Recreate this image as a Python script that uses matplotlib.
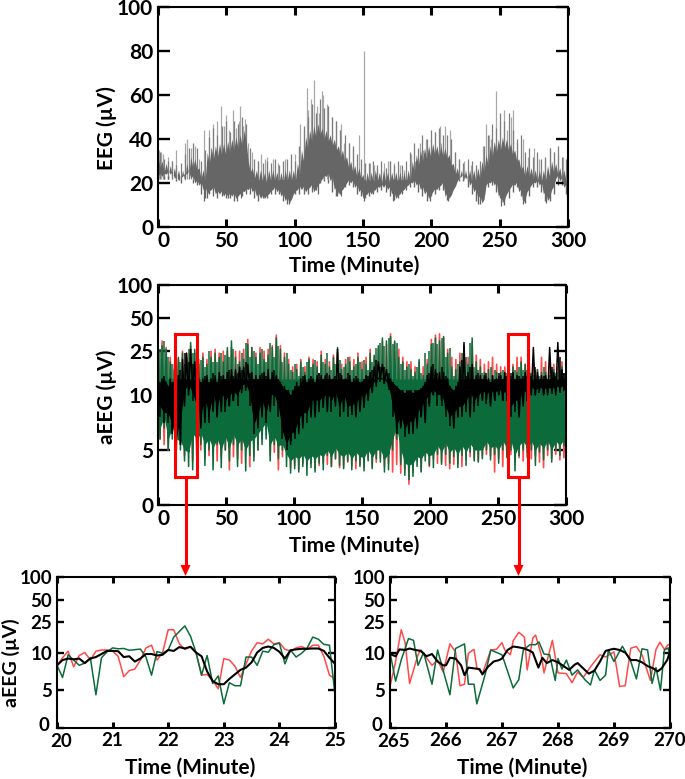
import numpy as np
import matplotlib
matplotlib.use("Agg")
import matplotlib.pyplot as plt
from matplotlib.patches import Rectangle
from matplotlib.transforms import ScaledTranslation

plt.rcParams['font.family'] = ['Lato', 'DejaVu Sans']
plt.rcParams['font.weight'] = 'bold'

W, H = 685, 779

# ---------- top panel: EEG envelope, one value every 3 minutes ----------
eeg_hi = [32,30,29,28,27,26,26,29,32,31,
          27,26,34,36,37,38,38,39,40,41,
          42,44,30,27,26,26,25,26,26,25,
          25,26,26,26,29,35,41,44,46,47,
          45,44,42,40,37,35,32,30,28,27,
          24,25,25,26,25,26,25,25,25,25,
          25,26,30,33,35,36,37,38,37,37,
          36,33,29,27,26,26,26,26,27,30,
          33,37,39,40,41,40,38,35,31,28,
          28,27,26,26,26,28,30,29,27,26,
          25]
eeg_lo = [23,23,24,24,22,21,23,24,22,20,
          19,17,15,17,15,15,14,14,14,13,
          15,16,17,16,14,13,13,15,17,16,
          14,12,11,15,17,17,16,18,16,19,
          22,23,21,17,15,17,20,20,18,16,
          13,15,15,17,18,18,17,15,13,15,
          17,19,20,19,17,15,13,16,17,19,
          14,13,17,21,23,22,19,16,13,11,
          19,20,19,14,11,15,18,19,16,11,
          16,19,20,19,15,12,17,22,21,18,
          15]
# values between the 3-minute points (t = 1.5, 4.5, ...)
eeg_up = [34,31,30,30,28,29,33,36,38,36,
          30,35,41,45,42,46,48,43,48,47,
          50,47,36,31,30,29,30,29,31,28,
          30,31,33,30,37,46,50,56,52,58,
          54,55,50,48,44,42,38,37,33,31,
          29,29,30,28,30,27,30,28,30,28,
          30,34,38,36,42,40,44,43,45,42,
          42,40,34,31,29,31,30,28,30,37,
          42,47,45,52,48,52,44,40,42,34,
          36,32,34,31,32,36,34,37,32,31]
eeg_down = [22,23,23,22,21,20,22,22,20,19,
            15,13,15,14,13,14,13,13,12,14,
            14,15,15,13,12,13,13,15,15,15,
            12,10.5,13,15,15,15,15,16,17,20,
            21,20,16,14,15,18,19,18,15,14,
            13,14,15,16,17,16,14,12.5,13,15,
            17,18,18,16,14,12,14,15,17,17,
            12.5,15,19,21,21,18,15,12,10.5,15,
            18,19,16,13,10,13,16,18,14,11,
            14,18,18,16,12,12,15,19,19,15]
spike_t = [1,2,4,7,10,13,20,21,24,27,30,34,37,39,40,43,46,48,50,52,55,57,59,60,62,64,66,69,
           73,75,78,80,84,88,93,97,100,103,104,107,109,110,112,114,116,118,120,121,124,127,
           130,134,136,140,143,147,151,155,158,160,165,168,170,173,177,180,185,188,192,194,
           196,200,203,206,207,210,214,217,220,224,229,233,238,240,242,244,247,250,253,255,
           258,260,263,267,271,275,279,283,287,290,293,296,299]
spike_v = [35,34,33,32,30,35,38,40,36,37,31,44,44,36,47,48,55,46,51,44,53,45,48,55,46,49,38,34,
           30,33,31,32,31,29,31,30,33,36,47,44,63,53,58,67,55,52,62,60,56,50,
           48,47,38,38,36,42,80,29,28,27,29,30,30,29,28,26,33,30,38,35,
           40,40,43,46,38,46,44,34,31,30,28,27,37,47,42,40,62,48,53,44,
           50,53,38,40,32,36,31,30,36,34,33,32,30]
dip_t = [34,36,51,58,61,96,117,131,134,151,172,199,212,234,251,267,284,299]
dip_v = [12,13,13,12,13,10.5,15,14,14,12,12,12,12,10.5,9.5,10.5,11,13]

# ---------- middle panel: aEEG envelopes, one pair every 3 minutes ----------
green_hi = [30,28,26,20,17,22,24,22,30,26,
            19,22,19,22,24,22,20,27,31,22,
            20,21,29,27,22,24,21,23,27,33,
            26,22,19,16,17,20,16,21,19,18,
            23,19,18,22,27,17,19,20,18,22,
            17,19,24,23,28,33,31,34,31,22,
            20,18,17,16,21,15,19,29,33,31,
            34,24,18,17,20,28,19,33,20,18,
            16,17,15,16,16,15,17,18,16,20,
            19,18,15,17,16,16,15,17,16,18,
            15]
green_lo = [6,7,5,6,5.5,5,4,3.5,3.2,5,
            5.5,3.6,5,3.2,5.5,3.4,5,4,5.5,3.5,
            5,3.1,4.5,4,5,5.5,6,4,5.5,4.2,
            5,3.5,2.9,3.3,3,3.5,2.7,3.4,3,3.8,
            3.2,4.5,3.5,4.2,3.6,3.3,4,3.2,4,3.5,
            3.1,4,3.3,4.2,3.9,3,3.2,5,6,3.7,
            2.7,2.3,2.6,3.5,3,4,3.6,3.4,4.6,3.7,
            4.6,3.8,4.4,3.4,4.5,3.6,4.8,4,3.9,4.2,
            5,4.1,4.6,3.8,5,4.3,5,3.1,4.5,5,
            4.3,5,3.6,4.8,4.1,5,3.9,5,4.5,5.4,
            5.5]
# green values between the 3-minute points (t = 1.5, 4.5, ...)
green_hi2 = [26,31,22,19,23,20,19,26,24,22,
             21,18,25,20,20,24,23,22,26,19,
             24,30,22,25,19,26,20,30,22,28,
             20,24,17,19,15,18,20,18,21,16,
             20,24,17,19,21,18,22,17,19,20,
             21,17,20,27,30,28,33,29,30,19,
             17,19,15,18,16,24,25,30,29,33,
             22,27,15,19,24,22,30,18,17,16,
             15,18,17,15,17,16,15,17,18,17,
             17,16,17,15,18,14,17,16,17,16]
green_lo2 = [7,8,6,7,6,5.8,5,4.8,6.5,6,
             6.5,5.5,6,5.2,6,5,6.2,5.2,6.4,5.5,
             6,5,5.8,6,6.5,7,7.5,5.5,6.2,5.4,
             5.5,4.6,4,4.4,4.2,4.6,4,4.5,4.2,4.6,
             4.4,5,4.4,5.2,4.6,4.4,4.8,4.2,4.8,4.4,
             4.3,5,4.3,5,5,4.2,4.6,6,7,5,
             3.8,3.6,3.8,4.4,4.2,4.8,4.5,4.6,5.4,4.8,
             5.6,4.8,5.2,4.6,5.4,4.8,5.6,5,5,5,
             5.8,5.2,5.4,5,5.8,5.2,5.8,4.6,5.4,5.8,
             5.2,5.8,5,5.6,5.2,5.8,5,5.8,5.4,6]
red_hi = [33,31,27,22,19,21,25,24,28,24,
          21,24,21,25,26,24,25,25,27,25,
          25,26,32,27,24,27,25,26,28,35,
          28,24,21,18,19,21,18,22,21,20,
          25,21,20,23,24,19,21,22,21,24,
          20,22,26,22,26,31,29,36,30,26,
          22,20,20,18,20,18,21,32,35,36,
          33,26,22,21,24,24,22,30,23,21,
          19,20,22,19,18,18,19,19,22,22,
          19,19,18,17,22,20,19,19,18,20,
          17]
red_lo = [6,5.5,5,7,5,5.5,4.5,5,4,4.5,
          5,4.3,4.5,5,4,4.4,5,3.2,4.4,4.2,
          3.8,5,3.5,4.5,5,6,7,4.5,4.8,3.2,
          4.4,5,3.4,3.6,3.2,3.8,3.6,3.8,3.3,3.6,
          3.8,3.7,3.5,4.2,3.4,3.5,3.9,3.6,3.3,3.7,
          3.4,4.2,3.5,3.9,4.3,3.5,3.8,3,3.7,2.9,
          3.2,1.9,3,4,3.1,4.4,3.5,4.2,3.8,3.9,
          3.6,3.3,3.7,3.8,3.5,4.2,4.4,4.2,4,4.5,
          4.6,4.5,3,4.2,3.5,4.8,4.6,4.4,4.3,4,
          4.8,4.2,4.5,3.9,3.4,4.5,4.2,4.6,4.1,4.3,
          5.2]
black_hi = [15,14,13,14,13,15,21,24,26,20,
            14,14,15,14,15,16,15,16,17,17,
            18,18,19,16,15,15,16,17,16,15,
            13,12,11,11,13,14,15,14,14,15,
            15,15,15,14,26,15,14,15,14,14,
            13,15,16,18,20,19,17,14,12,11,
            11,11,11,11,11,12,15,18,17,16,
            16,14,11,12,18,30,16,19,15,15,
            15,14,15,14,15,16,15,16,15,14,
            16,16,27,16,15,15,27,16,30,17,
            15]
black_lo = [9,8.5,8,7,6.3,5.5,9,10,10.5,9.5,
            7,7.5,8,8.5,8,8.5,9,9,9.5,10,
            10.5,11,12,8,7,8,8,8.5,10,9.5,
            7,5.8,5.5,6.5,6.5,7,8.5,8,8,9,
            9,8.5,9.5,9,9,8.5,9,8.5,8,8.5,
            9,9.5,10.5,12,14,13,12,11,7,7,
            7,6.5,6.5,7,8,7.5,9,10,10.3,9.5,
            8.8,8,7,8,8.5,9,8,9,9.5,9.5,
            9.6,9,9.6,10,9.5,10,10,9,8,9,
            10,10,10,11,10,10,11,10,11,11,
            11]
black_hi2 = [13,15,12,13,16,17,24,20,19,16,
             13,15,13,16,13,15,14,17,15,16,
             17,20,16,14,14,16,15,14,17,14,
             12,11,10,12,12,15,13,15,13,16,
             14,16,14,15,16,14,16,13,15,13,
             14,15,17,21,18,18,16,13,12,11,
             10.5,11,10.5,11,11.5,13,16,19,16,18,
             15,12,11,13,21,15,18,14,16,14,
             16,13,14,16,14,15,16,14,15,15,
             15,15,18,14,15,14,18,15,22,16]
black_lo2 = [8,7.5,7.5,6.5,5.5,7,10,11,9.5,8,
             7.5,8.5,7.5,9,8,9.5,8.5,9,9.5,9,
             11,11.5,9,6.5,7.5,8.5,7.5,9,9,8,
             6,5,5.8,6,7,7.5,7.5,8.5,8.5,8.5,
             8.8,9.2,8.5,9.5,8,9.2,8,8.2,8.2,9,
             8.8,10,11,13,13,12.5,11,8,6.5,7.2,
             6.2,6.8,6.8,7.5,8,8.5,9.2,10,9,9,
             8,7.2,7.5,8,8,8.5,9.5,8.5,9,9.8,
             9.2,9.8,9.5,10,9.5,9.5,8,8.5,8.5,9.8,
             9.5,10.5,10,10.5,10.2,10.5,10.2,10.8,10.5,11]

# ---------- lower-left detail, 20-25 min ----------
l_t = [20+i/10 for i in range(51)]
l_green = [8.3,6.7,9.7,9,8.3,8.6,9.3,4.4,9.3,10.2,
           11.5,11.2,11.3,10.7,10.9,11.1,9.4,7,10.3,9.9,
           10.8,16,19,22.5,16.5,10,7,9.6,5.9,6.9,
           3.2,6,5.6,5.6,9.4,9.4,8.3,10.4,10.1,12.7,
           13.3,8.5,10.8,9.4,9.9,11.5,16,15,12.8,12.5,
           4.4]
l_red = [8.3,9.3,10.4,8.1,9.6,10,9,10.4,10.8,10.8,
         10.4,9.5,6.8,7.6,7.8,9,11.5,12.5,9,10,
         20,20,13,11,12,10,7,7.1,6.3,5.2,
         9.2,9,8.2,6.7,8.5,10.5,13.5,13,15,13,
         13.5,11,10.5,11.5,12,11,12.5,12.5,9.5,7,
         6.5]
l_black = [8.3,9,9.2,9.1,9.2,8.6,9.2,9.4,9.8,10.5,
           10.5,10.4,9.4,9.5,8.8,9.2,9.8,9.8,9.6,9.7,
           10.8,10.5,11.8,11.3,11.9,10,9.5,7.5,6.2,5.8,
           5.8,6.5,7.1,7.7,8,8.7,10,11.5,12,11.5,
           10.2,9.2,10.7,11,11.2,11.2,11.3,11.3,10.5,9.3,
           8.5]

# ---------- lower-right detail, 265-270 min ----------
r_green_t = [265,265.1,265.2,265.33,265.42,265.5,265.6,265.75,265.85,265.95,266.07,266.17,266.33,266.4,266.5,
             266.55,266.7,266.8,267,267.2,267.3,267.38,267.5,267.6,267.66,267.75,267.85,267.95,268,268.07,
             268.15,268.25,268.35,268.48,268.58,268.65,268.75,268.85,268.9,269,269.15,269.3,269.4,269.5,269.6,
             269.68,269.75,269.83,269.9,269.97,270]
r_green = [10,6.2,9,15.3,14.5,8.3,10,5.8,10.8,7.6,4.4,11.3,13,5.8,5.8,
           3.2,7.1,10.8,9.7,5.3,6.4,10.8,12.7,12.7,13.8,9.8,9.7,6.3,9.2,7.8,
           9,7,7.7,6.4,5.7,7.7,6.3,7,10.8,8.8,12.1,8.8,6.5,11.2,10.8,
           5.9,8,5,10.8,11.5,8.7]
r_red_t = [265,265.1,265.2,265.27,265.35,265.5,265.55,265.75,265.85,265.95,266.07,266.17,266.25,266.33,266.4,
           266.5,266.55,266.65,266.8,266.9,267,267.05,267.15,267.2,267.3,267.4,267.45,267.55,267.6,267.7,
           267.75,267.9,268,268.15,268.25,268.35,268.45,268.6,268.75,268.85,269,269.1,269.2,269.3,269.4,
           269.5,269.65,269.75,269.82,269.9,269.97,270]
r_red = [5.5,8.8,20,13.5,5.9,9.7,10.8,8.3,9,7.4,13,10.2,5.6,5.8,9.9,
         11,8,7.2,10.8,11,13.5,10.8,9.7,14.3,18.5,16,7.7,15.5,17,9.7,
         7.3,14.5,7.3,7.2,6,7.4,6.7,8.3,9.7,9.4,10.2,5.5,5.6,11.4,12,
         9.7,6.3,11,13.7,11,12.8,12.4]
r_black_t = [265,265.1,265.17,265.27,265.35,265.45,265.55,265.65,265.75,265.85,265.95,266,266.07,266.17,266.27,
             266.33,266.4,266.5,266.6,266.65,266.75,266.85,266.95,267,267.1,267.2,267.3,267.4,267.5,267.55,
             267.6,267.65,267.72,267.8,267.9,268,268.1,268.2,268.3,268.35,268.45,268.55,268.65,268.75,268.85,
             268.95,269,269.1,269.2,269.3,269.4,269.5,269.6,269.7,269.78,269.85,269.95,270]
r_black = [9.8,9.5,11,10.8,11.3,10.8,10.5,9.5,9.8,8.8,8.3,8.3,9.3,9.2,8.3,
           7,8,7.9,7.8,7.1,8.1,8.8,9,9.2,10.8,12,11.7,11.3,10.5,10,
           9,8,9.3,8.6,9,8.7,8.2,7.7,8.4,8.6,7.9,7.2,7.6,8.8,10.5,
           11,11.2,10.8,10,9,9,8.7,8.2,7.9,7.5,7.9,9,10.2]

main_xticks = [0,50,100,150,200,250,300]
eeg_yticks = [0,20,40,60,80,100]
aeeg_yticks = [0,5,10,25,50,100]
GREY_DARK, GREY_MID, GREY_LIGHT = '#666666', '#7d7d7d', '#a8a8a8'
RED, GREEN, BLACK = '#ff4a4a', '#0b6b3a', '#000000'


def forward(v):
    v = np.asarray(v, dtype=float)
    return np.where(v <= 10, v / 10, 1 + np.log10(np.maximum(v, 1e-9) / 10))


def inverse(u):
    u = np.asarray(u, dtype=float)
    return np.where(u <= 1, u * 10, 10 ** u)


def make_axes(l, t, r, b):
    return fig.add_axes([l / W, 1 - b / H, (r - l) / W, (b - t) / H])


def style(ax, box, xticks, yticks, xlim, ylim, ylabel, big, xlab_c, xlab_top, ylab_r, ylab_c):
    l, t, r, b = box
    ax.set_xlim(*xlim)
    ax.set_ylim(*ylim)
    ax.set_xticks(xticks)
    ax.set_yticks(yticks)
    ax.set_yticklabels([str(v) for v in yticks])
    ax.minorticks_off()
    fs = 15 if big else 13.5
    ax.tick_params(axis='x', which='major', direction='in', top=True, bottom=True,
                   length=(5.8 if big else 4.4), width=2.2, labelsize=fs, pad=3)
    ax.tick_params(axis='y', which='major', direction='in', left=True, right=True,
                   length=(8.5 if big else 5), width=1.7, labelsize=fs, pad=3.5)
    for s in ax.spines.values():
        s.set_linewidth(1.5)
    ax.set_xlabel('Time (Minute)', fontsize=15, fontweight='bold')
    ax.xaxis.set_label_coords((xlab_c - l) / (r - l), (b - xlab_top) / (b - t))
    if ylabel:
        ax.set_ylabel(ylabel, fontsize=(15 if big else 14), fontweight='bold')
        ax.yaxis.set_label_coords((ylab_r - l) / (r - l), (b - ylab_c) / (b - t))


def nudge(label, dx, dy=0):
    label.set_transform(label.get_transform() + ScaledTranslation(dx / 100, dy / 100, fig.dpi_scale_trans))


fig = plt.figure(figsize=(W / 100, H / 100), dpi=100)

# top
box1 = (158, 7, 568, 227)
ax1 = make_axes(*box1)
t_eeg = np.arange(len(eeg_hi)) * 3
t_eeg_mid = t_eeg[:-1] + 1.5
ax1.vlines(spike_t, 22, spike_v, color=GREY_LIGHT, lw=0.9, zorder=1)
ax1.vlines(t_eeg_mid, 22, eeg_up, color=GREY_MID, lw=0.9, zorder=1.2)
ax1.vlines(t_eeg_mid, eeg_down, 22, color=GREY_DARK, lw=1.0, zorder=1.2)
ax1.vlines(dip_t, dip_v, 22, color=GREY_DARK, lw=0.9, zorder=1)
# solid body with a notched upper edge: each 3-minute point, then a dip before the next
t_body = np.arange(2 * len(eeg_hi) - 1) * 1.5
body_top = np.empty(len(t_body))
body_top[0::2] = eeg_hi
body_top[1::2] = np.array(eeg_hi[:-1]) - 5
body_bottom = np.empty(len(t_body))
body_bottom[0::2] = eeg_lo
body_bottom[1::2] = np.array(eeg_lo[:-1]) + 1.5
ax1.fill_between(t_body, body_bottom, body_top, color=GREY_DARK, lw=0, zorder=2)
style(ax1, box1, main_xticks, eeg_yticks, (0, 300), (0, 100), 'EEG (µV)', True, 354, 256, 117, 128)

# middle
box2 = (158, 285, 566, 505)
ax2 = make_axes(*box2)
ax2.set_yscale('function', functions=(forward, inverse))
t_half = np.arange(2 * len(green_hi)) * 1.5
t_mid = np.arange(len(green_hi2)) * 3 + 1.5
ax2.plot(t_half, np.column_stack((red_hi, red_lo)).ravel(), color=RED, lw=1.2, zorder=2)
ax2.plot(t_half, np.column_stack((green_hi, green_lo)).ravel(), color=GREEN, lw=1.1, zorder=2.1)
ax2.vlines(t_mid, green_lo2, green_hi2, color=GREEN, lw=1.1, zorder=2.1)
ax2.fill_between(t_mid, green_lo2, np.minimum(green_hi2, 14), color=GREEN, lw=0, zorder=2.2)
ax2.plot(t_half, np.column_stack((black_hi, black_lo)).ravel(), color=BLACK, lw=1.1, zorder=2.3)
ax2.vlines(t_mid, black_lo2, black_hi2, color=BLACK, lw=1.1, zorder=2.3)
ax2.fill_between(t_mid, np.array(black_lo2) * 1.12, np.minimum(black_hi2, 14), color=BLACK, lw=0, zorder=2.4)
style(ax2, box2, main_xticks, aeeg_yticks, (0, 300), (0, 100), 'aEEG (µV)', True, 354, 536, 117, 397)

# lower left
box3 = (57, 577, 335, 728)
ax3 = make_axes(*box3)
ax3.set_yscale('function', functions=(forward, inverse))
ax3.plot(l_t, l_red, color=RED, lw=1.1)
ax3.plot(l_t, l_green, color=GREEN, lw=1.1)
ax3.plot(l_t, l_black, color=BLACK, lw=1.5)
style(ax3, box3, [20,21,22,23,24,25], aeeg_yticks, (20, 25), (0, 100), 'aEEG (µV)', False, 190, 758, 20, 663)

# lower right
box4 = (390, 577, 670, 728)
ax4 = make_axes(*box4)
ax4.set_yscale('function', functions=(forward, inverse))
ax4.plot(r_red_t, r_red, color=RED, lw=1.1)
ax4.plot(r_green_t, r_green, color=GREEN, lw=1.1)
ax4.plot(r_black_t, r_black, color=BLACK, lw=1.5)
style(ax4, box4, [265,266,267,268,269,270], aeeg_yticks, (265, 270), (0, 100), '', False, 522, 758, 0, 0)

fig.canvas.draw()
nudge(ax1.get_xticklabels()[0], 5)
nudge(ax2.get_xticklabels()[0], 5)
for ax in (ax3, ax4):
    nudge(ax.get_xticklabels()[0], 4, -1)
    nudge(ax.get_yticklabels()[0], -3, 4)


# zoom boxes and arrows, placed in figure pixels
def px(x, y):
    return x / W, 1 - y / H


for left, right, cx in [(174.5, 196.5, 185.5), (507.5, 527.5, 518.5)]:
    x0, y0 = px(left, 477)
    x1, y1 = px(right, 334)
    fig.add_artist(Rectangle((x0, y0), x1 - x0, y1 - y0, fill=False, ec='#ff0000', lw=2.2,
                             transform=fig.transFigure, zorder=10))
    fig.add_artist(plt.Line2D([cx / W, cx / W], [1 - 477 / H, 1 - 566 / H], color='#ff0000', lw=2.2,
                              transform=fig.transFigure, zorder=10))
    fig.add_artist(plt.Polygon([px(cx - 5, 565), px(cx + 5, 565), px(cx, 576)], closed=True, fc='#ff0000',
                               ec='none', transform=fig.transFigure, zorder=10))

fig.savefig('out.png', dpi=100)
